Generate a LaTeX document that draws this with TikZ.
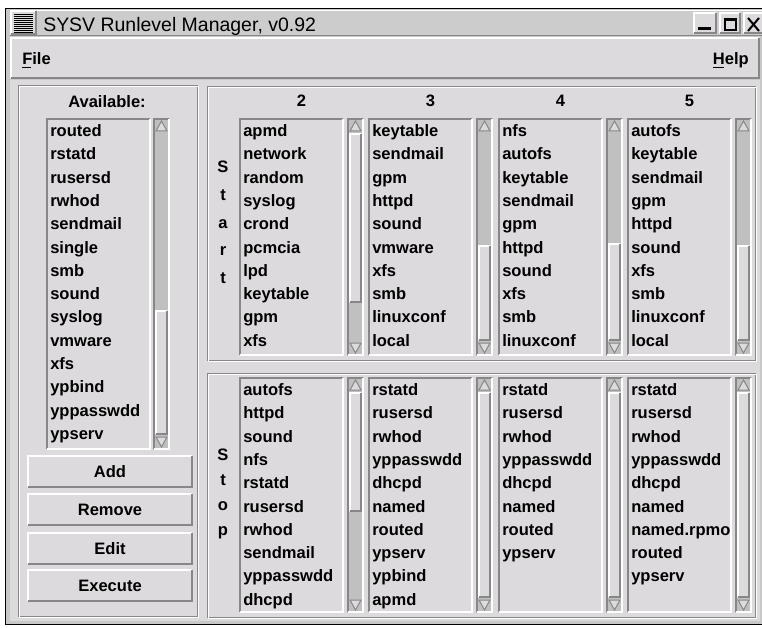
\documentclass[tikz,border=0pt]{standalone}
\usepackage{fontspec}
\setmainfont{Liberation Sans}
\definecolor{winbg}{RGB}{221,218,221}
\definecolor{titlebg}{RGB}{204,204,204}
\definecolor{trough}{RGB}{192,192,192}
\definecolor{edgedark}{RGB}{135,135,135}
\definecolor{wframe}{RGB}{200,200,200}

% boxes in pixel coordinates (x1,y1,x2,y2)
\newcommand{\raisedbox}[4]{%
  \fill[winbg] (#1,#2) rectangle (#3,#4);
  \draw[white,line width=1.5pt] (#1+1,#4-1) -- (#1+1,#2+1) -- (#3-1,#2+1);
  \draw[edgedark,line width=1.5pt] (#1+1,#4-1) -- (#3-1,#4-1) -- (#3-1,#2+1);
}
\newcommand{\sunkenbox}[5]{%
  \fill[#5] (#1,#2) rectangle (#3,#4);
  \draw[edgedark,line width=1.5pt] (#1+1,#4-1) -- (#1+1,#2+1) -- (#3-1,#2+1);
  \draw[white,line width=1.5pt] (#1+1,#4-1) -- (#3-1,#4-1) -- (#3-1,#2+1);
}
\newcommand{\groovebox}[4]{%
  \draw[edgedark,line width=0.75pt] (#1+0.5,#2+0.5) rectangle (#3-1.5,#4-1.5);
  \draw[white,line width=0.75pt] (#1+1.5,#2+1.5) rectangle (#3-0.5,#4-0.5);
}
% scrollbar: x, top, bottom, thumb top, thumb bottom
\newcommand{\scrollbar}[5]{%
  \sunkenbox{#1}{#2}{#1+17}{#3}{trough}
  \raisedbox{#1+2}{#4}{#1+15}{#5}
  \filldraw[fill=winbg,draw=edgedark,line width=0.75pt] (#1+8.5,#2+3) -- (#1+14,#2+13) -- (#1+3,#2+13) -- cycle;
  \filldraw[fill=winbg,draw=edgedark,line width=0.75pt] (#1+8.5,#3-3) -- (#1+14,#3-13) -- (#1+3,#3-13) -- cycle;
}
% list box: name, x, top, bottom, items
\newcommand{\listbox}[5]{%
  \sunkenbox{#2}{#3}{#2+105}{#4}{winbg}
  \begin{scope}
    \clip (#2+2,#3+2) rectangle (#2+103,#4-2);
    \foreach \t [count=\i] in {#5}
      \node[item] (#1-\i) at (#2+4,#3+18.5+23.3*\i-23.3) {\t};
  \end{scope}
}

\begin{document}
\begin{tikzpicture}[x=0.75pt,y=-0.75pt,
  item/.style={anchor=base west,inner sep=0pt,font=\fontsize{12.4}{14}\selectfont\bfseries},
  lbl/.style={anchor=base,inner sep=0pt,font=\fontsize{12.4}{14}\selectfont\bfseries}]
\useasboundingbox (0,0) rectangle (762,627);
\fill[white] (0,0) rectangle (762,627);

% window frame and title bar
\draw[black,line width=0.75pt,fill=wframe] (5.5,8.5) rectangle (764,624.5);
\fill[titlebg] (10,10) rectangle (762,35);
\draw[white,line width=0.75pt] (10,10.5) -- (762,10.5);
\draw[edgedark,line width=0.75pt] (10,35.5) -- (762,35.5);
\raisedbox{10}{10}{37}{35}
\foreach \k in {0,...,9}
  \draw[black,line width=0.75pt] (14,14.5+2*\k) -- (33,14.5+2*\k);
\node[anchor=base west,inner sep=0pt,font=\fontsize{14.6}{16}\selectfont] (title) at (43,32) {SYSV Runlevel Manager, v0.92};
\raisedbox{693}{12}{717}{34}
\fill[black] (698,27) rectangle (711,30);
\raisedbox{719}{12}{741}{34}
\draw[black,line width=1.5pt] (725,19) rectangle (736,30);
\fill[black] (724,18) rectangle (737,21);
\raisedbox{743}{12}{765}{34}
\draw[black,line width=1.5pt] (748,18) -- (759,31) (759,18) -- (748,31);

% menu bar
\raisedbox{10}{37}{760}{79}
\node[item] (file) at (22,65) {File};
\draw[black,line width=0.75pt] (22,68) -- (31,68);
\node[item,anchor=base east] (help) at (749,65) {Help};
\draw[black,line width=0.75pt] (713,68) -- (724,68);
\fill[winbg] (10,80) rectangle (760,621);

% available services
\groovebox{18}{85}{199}{618}
\node[lbl] (avail) at (107,108) {Available:};
\listbox{av}{46}{118}{450}{routed,rstatd,rusersd,rwhod,sendmail,single,smb,sound,syslog,vmware,xfs,ypbind,yppasswdd,ypserv}
\scrollbar{153}{118}{450}{310}{435}

% buttons
\foreach \y/\t [count=\i] in {455/Add,493/Remove,532/Edit,569/Execute} {
  \raisedbox{27}{\y}{193}{\y+33}
  \node[lbl] (btn-\i) at (110,\y+22.5) {\t};
}

% start panel
\groovebox{207}{86}{757}{362}
\foreach \c [count=\i] in {S,t,a,r,t}
  \node[lbl] (start-\i) at (223,173+27.5*\i-27.5) {\c};
\foreach \n/\x in {2/301.5,3/430.5,4/560.5,5/689.5}
  \node[lbl] (lvl-\n) at (\x,107) {\n};
\listbox{on2}{239}{118}{356}{apmd,network,random,syslog,crond,pcmcia,lpd,keytable,gpm,xfs}
\scrollbar{347}{118}{356}{133}{303}
\listbox{on3}{368}{118}{356}{keytable,sendmail,gpm,httpd,sound,vmware,xfs,smb,linuxconf,local}
\scrollbar{476}{118}{356}{245}{341}
\listbox{on4}{498}{118}{356}{nfs,autofs,keytable,sendmail,gpm,httpd,sound,xfs,smb,linuxconf}
\scrollbar{606}{118}{356}{243}{341}
\listbox{on5}{627}{118}{356}{autofs,keytable,sendmail,gpm,httpd,sound,xfs,smb,linuxconf,local}
\scrollbar{735}{118}{356}{245}{341}

% stop panel
\groovebox{207}{373}{757}{619}
\foreach \c [count=\i] in {S,t,o,p}
  \node[lbl] (stop-\i) at (223,460+25.3*\i-25.3) {\c};
\listbox{off2}{239}{377}{613}{autofs,httpd,sound,nfs,rstatd,rusersd,rwhod,sendmail,yppasswdd,dhcpd}
\scrollbar{347}{377}{613}{392}{512}
\listbox{off3}{368}{377}{613}{rstatd,rusersd,rwhod,yppasswdd,dhcpd,named,routed,ypserv,ypbind,apmd}
\scrollbar{476}{377}{613}{392}{598}
\listbox{off4}{498}{377}{613}{rstatd,rusersd,rwhod,yppasswdd,dhcpd,named,routed,ypserv}
\scrollbar{606}{377}{613}{392}{598}
\listbox{off5}{627}{377}{613}{rstatd,rusersd,rwhod,yppasswdd,dhcpd,named,named.rpmo,routed,ypserv}
\scrollbar{735}{377}{613}{392}{598}
\end{tikzpicture}
\end{document}
